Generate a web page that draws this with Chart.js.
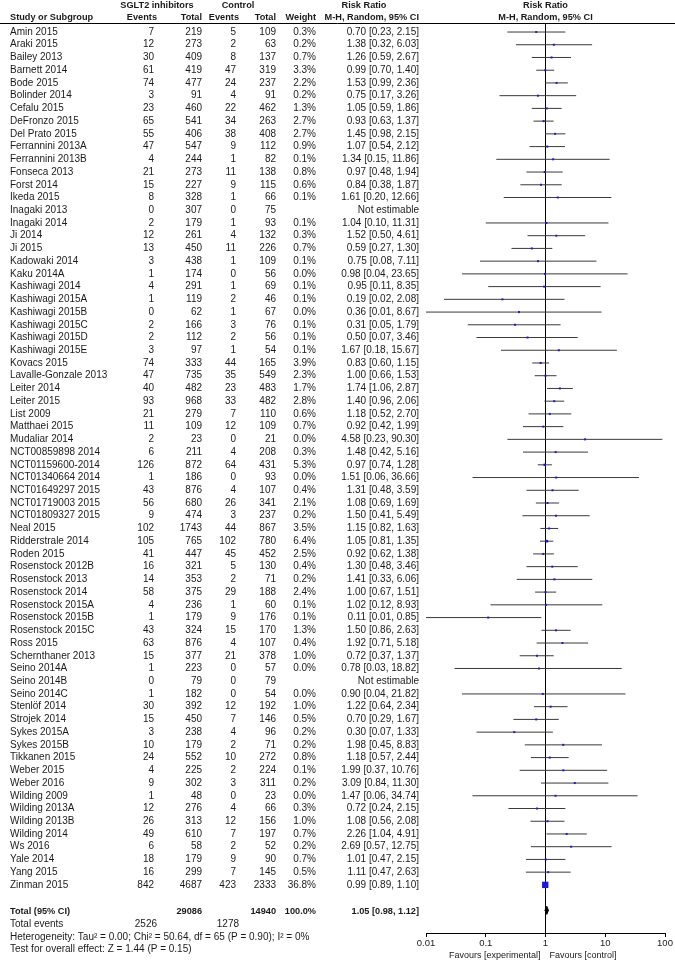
<!DOCTYPE html>
<html>
<head>
<meta charset="utf-8">
<script src="https://cdn.jsdelivr.net/npm/chart.js@4"></script>
<style>
  body { margin: 0; background: #fff; }
  canvas { display: block; }
</style>
</head>
<body>
<canvas id="myChart" width="675" height="962"></canvas>
<script>
let studies = ["Amin 2015", "Araki 2015", "Bailey 2013", "Barnett 2014", "Bode 2015", "Bolinder 2014", "Cefalu 2015", "DeFronzo 2015", "Del Prato 2015", "Ferrannini 2013A", "Ferrannini 2013B", "Fonseca 2013", "Forst 2014", "Ikeda 2015", "Inagaki 2013", "Inagaki 2014", "Ji 2014", "Ji 2015", "Kadowaki 2014", "Kaku 2014A", "Kashiwagi 2014", "Kashiwagi 2015A", "Kashiwagi 2015B", "Kashiwagi 2015C", "Kashiwagi 2015D", "Kashiwagi 2015E", "Kovacs 2015", "Lavalle-Gonzale 2013", "Leiter 2014", "Leiter 2015", "List 2009", "Matthaei 2015", "Mudaliar 2014", "NCT00859898 2014", "NCT01159600-2014", "NCT01340664 2014", "NCT01649297 2015", "NCT01719003 2015", "NCT01809327 2015", "Neal 2015", "Ridderstrale 2014", "Roden 2015", "Rosenstock 2012B", "Rosenstock 2013", "Rosenstock 2014", "Rosenstock 2015A", "Rosenstock 2015B", "Rosenstock 2015C", "Ross 2015", "Schernthaner 2013", "Seino 2014A", "Seino 2014B", "Seino 2014C", "Stenlöf 2014", "Strojek 2014", "Sykes 2015A", "Sykes 2015B", "Tikkanen 2015", "Weber 2015", "Weber 2016", "Wilding 2009", "Wilding 2013A", "Wilding 2013B", "Wilding 2014", "Ws 2016", "Yale 2014", "Yang 2015", "Zinman 2015"];

let expEvents = [7, 12, 30, 61, 74, 3, 23, 65, 55, 47, 4, 21, 15, 8, 0, 2, 12, 13, 3, 1, 4, 1, 0, 2, 2, 3, 74, 47, 40, 93, 21, 11, 2, 6, 126, 1, 43, 56, 9, 102, 105, 41, 16, 14, 58, 4, 1, 43, 63, 15, 1, 0, 1, 30, 15, 3, 10, 24, 4, 9, 1, 12, 26, 49, 6, 18, 16, 842];
let expTotal = [219, 273, 409, 419, 477, 91, 460, 541, 406, 547, 244, 273, 227, 328, 307, 179, 261, 450, 438, 174, 291, 119, 62, 166, 112, 97, 333, 735, 482, 968, 279, 109, 23, 211, 872, 186, 876, 680, 474, 1743, 765, 447, 321, 353, 375, 236, 179, 324, 876, 377, 223, 79, 182, 392, 450, 238, 179, 552, 225, 302, 48, 276, 313, 610, 58, 179, 299, 4687];
let ctlEvents = [5, 2, 8, 47, 24, 4, 22, 34, 38, 9, 1, 11, 9, 1, 0, 1, 4, 11, 1, 0, 1, 2, 1, 3, 2, 1, 44, 35, 23, 33, 7, 12, 0, 4, 64, 0, 4, 26, 3, 44, 102, 45, 5, 2, 29, 1, 9, 15, 4, 21, 0, 0, 0, 12, 7, 4, 2, 10, 2, 3, 0, 4, 12, 7, 2, 9, 7, 423];
let ctlTotal = [109, 63, 137, 319, 237, 91, 462, 263, 408, 112, 82, 138, 115, 66, 75, 93, 132, 226, 109, 56, 69, 46, 67, 76, 56, 54, 165, 549, 483, 482, 110, 109, 21, 208, 431, 93, 107, 341, 237, 867, 780, 452, 130, 71, 188, 60, 176, 170, 107, 378, 57, 79, 54, 192, 146, 96, 71, 272, 224, 311, 23, 66, 156, 197, 52, 90, 145, 2333];
let weights = [0.3, 0.2, 0.7, 3.3, 2.2, 0.2, 1.3, 2.7, 2.7, 0.9, 0.1, 0.8, 0.6, 0.1, null, 0.1, 0.3, 0.7, 0.1, 0.0, 0.1, 0.1, 0.0, 0.1, 0.1, 0.1, 3.9, 2.3, 1.7, 2.8, 0.6, 0.7, 0.0, 0.3, 5.3, 0.0, 0.4, 2.1, 0.2, 3.5, 6.4, 2.5, 0.4, 0.2, 2.4, 0.1, 0.1, 1.3, 0.4, 1.0, 0.0, null, 0.0, 1.0, 0.5, 0.2, 0.2, 0.8, 0.1, 0.2, 0.0, 0.3, 1.0, 0.7, 0.2, 0.7, 0.5, 36.8];
let riskRatio = [0.70, 1.38, 1.26, 0.99, 1.53, 0.75, 1.05, 0.93, 1.45, 1.07, 1.34, 0.97, 0.84, 1.61, null, 1.04, 1.52, 0.59, 0.75, 0.98, 0.95, 0.19, 0.36, 0.31, 0.50, 1.67, 0.83, 1.00, 1.74, 1.40, 1.18, 0.92, 4.58, 1.48, 0.97, 1.51, 1.31, 1.08, 1.50, 1.15, 1.05, 0.92, 1.30, 1.41, 1.00, 1.02, 0.11, 1.50, 1.92, 0.72, 0.78, null, 0.90, 1.22, 0.70, 0.30, 1.98, 1.18, 1.99, 3.09, 1.47, 0.72, 1.08, 2.26, 2.69, 1.01, 1.11, 0.99];
let ciLow = [0.23, 0.32, 0.59, 0.70, 0.99, 0.17, 0.59, 0.63, 0.98, 0.54, 0.15, 0.48, 0.38, 0.20, null, 0.10, 0.50, 0.27, 0.08, 0.04, 0.11, 0.02, 0.01, 0.05, 0.07, 0.18, 0.60, 0.66, 1.06, 0.96, 0.52, 0.42, 0.23, 0.42, 0.74, 0.06, 0.48, 0.69, 0.41, 0.82, 0.81, 0.62, 0.48, 0.33, 0.67, 0.12, 0.01, 0.86, 0.71, 0.37, 0.03, null, 0.04, 0.64, 0.29, 0.07, 0.45, 0.57, 0.37, 0.84, 0.06, 0.24, 0.56, 1.04, 0.57, 0.47, 0.47, 0.89];
let ciHigh = [2.15, 6.03, 2.67, 1.40, 2.36, 3.26, 1.86, 1.37, 2.15, 2.12, 11.86, 1.94, 1.87, 12.66, null, 11.31, 4.61, 1.30, 7.11, 23.65, 8.35, 2.08, 8.67, 1.79, 3.46, 15.67, 1.15, 1.53, 2.87, 2.06, 2.70, 1.99, 90.30, 5.16, 1.28, 36.66, 3.59, 1.69, 5.49, 1.63, 1.35, 1.38, 3.46, 6.06, 1.51, 8.93, 0.85, 2.63, 5.18, 1.37, 18.82, null, 21.82, 2.34, 1.67, 1.33, 8.83, 2.44, 10.76, 11.30, 34.74, 2.15, 2.08, 4.91, 12.75, 2.15, 2.63, 1.10];

let totalRR = [1.05, 0.98, 1.12];
let totalN = [29086, 14940];
let totalEvents = [2526, 1278];
let heterogeneity = "Heterogeneity: Tau\u00b2 = 0.00; Chi\u00b2 = 50.64, df = 65 (P = 0.90); I\u00b2 = 0%";
let overallEffect = "Test for overall effect: Z = 1.44 (P = 0.15)";

let xTicks = [0.01, 0.1, 1, 10, 100];
let xTickLabels = ["0.01", "0.1", "1", "10", "100"];

let textColor = "#1a1a1a";
let lineColor = "#3a3a3a";
let boxColor = "#1c1ccc";
let font = '"Liberation Sans", Arial, sans-serif';

// rows: 0..67 studies, 68 empty, 69 total, 70..72 footer
let totalRow = studies.length + 1;

let ciPoints = [];
let boxPoints = [];
let boxSizes = [];
for (let i = 0; i < studies.length; i++) {
    if (riskRatio[i] === null) continue;
    ciPoints.push({x: ciLow[i], y: i}, {x: ciHigh[i], y: i}, {x: null, y: null});
    boxPoints.push({x: riskRatio[i], y: i});
    // square side about sqrt(weight), never smaller than 2px
    boxSizes.push(Math.max(Math.sqrt(weights[i]) * 1.05, 2) / Math.SQRT2);
}

let diamondHalf = 0.32;
let diamond = [
    {x: totalRR[1], y: totalRow},
    {x: totalRR[0], y: totalRow - diamondHalf},
    {x: totalRR[2], y: totalRow},
    {x: totalRR[0], y: totalRow + diamondHalf},
    {x: totalRR[1], y: totalRow}
];

function fmt(v) { return v.toFixed(2); }

const tablePlugin = {
    id: "tablePlugin",
    afterDraw(chart) {
        const ctx = chart.ctx;
        const ys = chart.scales.y;
        const xs = chart.scales.x;
        const top = chart.chartArea.top;
        ctx.save();
        ctx.fillStyle = textColor;
        ctx.textBaseline = "middle";

        function txt(s, x, y, align, bold, size) {
            ctx.font = bold ? "bold 9.2px " + font : (size || 10) + "px " + font;
            ctx.textAlign = align;
            ctx.fillText(s, x, y);
        }

        // header
        let h1 = top - 18.5;
        let h2 = top - 6.5;
        txt("SGLT2 inhibitors", 157, h1, "center", true);
        txt("Control", 238, h1, "center", true);
        txt("Risk Ratio", 364, h1, "center", true);
        txt("Risk Ratio", xs.getPixelForValue(1), h1, "center", true);
        txt("Study or Subgroup", 10, h2, "left", true);
        txt("Events", 157, h2, "right", true);
        txt("Total", 202, h2, "right", true);
        txt("Events", 239, h2, "right", true);
        txt("Total", 276, h2, "right", true);
        txt("Weight", 316, h2, "right", true);
        txt("M-H, Random, 95% CI", 419, h2, "right", true);
        txt("M-H, Random, 95% CI", xs.getPixelForValue(1), h2, "center", true);

        ctx.strokeStyle = "#000";
        ctx.lineWidth = 1;
        ctx.beginPath();
        ctx.moveTo(0, top - 0.5);
        ctx.lineTo(chart.width, top - 0.5);
        ctx.stroke();

        studies.forEach((s, i) => {
            const y = ys.getPixelForValue(i);
            txt(s, 10, y, "left", false);
            txt(String(expEvents[i]), 154, y, "right", false);
            txt(String(expTotal[i]), 202, y, "right", false);
            txt(String(ctlEvents[i]), 236, y, "right", false);
            txt(String(ctlTotal[i]), 276, y, "right", false);
            if (riskRatio[i] === null) {
                txt("Not estimable", 419, y, "right", false);
            } else {
                txt(weights[i].toFixed(1) + "%", 316, y, "right", false);
                txt(fmt(riskRatio[i]) + " [" + fmt(ciLow[i]) + ", " + fmt(ciHigh[i]) + "]", 419, y, "right", false);
            }
        });

        let yt = ys.getPixelForValue(totalRow) + 1;
        txt("Total (95% CI)", 10, yt, "left", true);
        txt(String(totalN[0]), 202, yt, "right", true);
        txt(String(totalN[1]), 276, yt, "right", true);
        txt("100.0%", 316, yt, "right", true);
        txt(fmt(totalRR[0]) + " [" + fmt(totalRR[1]) + ", " + fmt(totalRR[2]) + "]", 419, yt, "right", true);

        let ye = ys.getPixelForValue(totalRow + 1) + 1;
        txt("Total events", 10, ye, "left", false);
        txt(String(totalEvents[0]), 157, ye, "right", false);
        txt(String(totalEvents[1]), 239, ye, "right", false);
        txt(heterogeneity, 10, ys.getPixelForValue(totalRow + 2) + 1, "left", false);
        txt(overallEffect, 10, ys.getPixelForValue(totalRow + 3) + 1, "left", false);

        // favours labels under the axis
        let xf = xs.getPixelForValue(1);
        txt("Favours [experimental]", xf - 5, 956, "right", false, 9);
        txt("Favours [control]", xf + 4, 956, "left", false, 9);
        ctx.restore();
    }
};

const config = {
    type: "scatter",
    data: {
        datasets: [
            {
                label: "Studies",
                data: boxPoints,
                pointStyle: "rect",
                pointRadius: boxSizes,
                pointHoverRadius: boxSizes,
                backgroundColor: boxColor,
                borderWidth: 0
            },
            {
                label: "CI",
                data: ciPoints,
                showLine: true,
                spanGaps: false,
                borderColor: lineColor,
                borderWidth: 1,
                pointRadius: 0
            },
            {
                label: "Total",
                type: "line",
                data: diamond,
                borderColor: "#000",
                backgroundColor: "#000",
                borderWidth: 1,
                fill: "shape",
                pointRadius: 0,
                tension: 0
            }
        ]
    },
    options: {
        responsive: false,
        animation: false,
        devicePixelRatio: 1,
        layout: {
            padding: {left: 426, right: 10, top: 24, bottom: 0}
        },
        plugins: {
            legend: {display: false},
            tooltip: {enabled: false}
        },
        scales: {
            x: {
                type: "logarithmic",
                min: 0.01,
                max: 100,
                afterBuildTicks: (scale) => {
                    scale.ticks = xTicks.map(v => ({value: v}));
                },
                afterFit: (scale) => {
                    scale.height = 29;
                },
                ticks: {
                    autoSkip: false,
                    maxRotation: 0,
                    padding: 1,
                    color: textColor,
                    font: {family: font, size: 9.5},
                    callback: (v) => xTickLabels[xTicks.indexOf(v)]
                },
                grid: {
                    drawOnChartArea: true,
                    color: (c) => (c.tick && c.tick.value === 1 ? "#000" : "rgba(0,0,0,0)"),
                    tickColor: "#000",
                    tickLength: 4
                },
                border: {display: true, color: "#000", width: 1}
            },
            y: {
                type: "linear",
                reverse: true,
                min: -0.63,
                max: 70.78,
                display: false
            }
        }
    },
    plugins: [tablePlugin]
};

const myChart = new Chart(document.getElementById("myChart"), config);
</script>
</body>
</html>
